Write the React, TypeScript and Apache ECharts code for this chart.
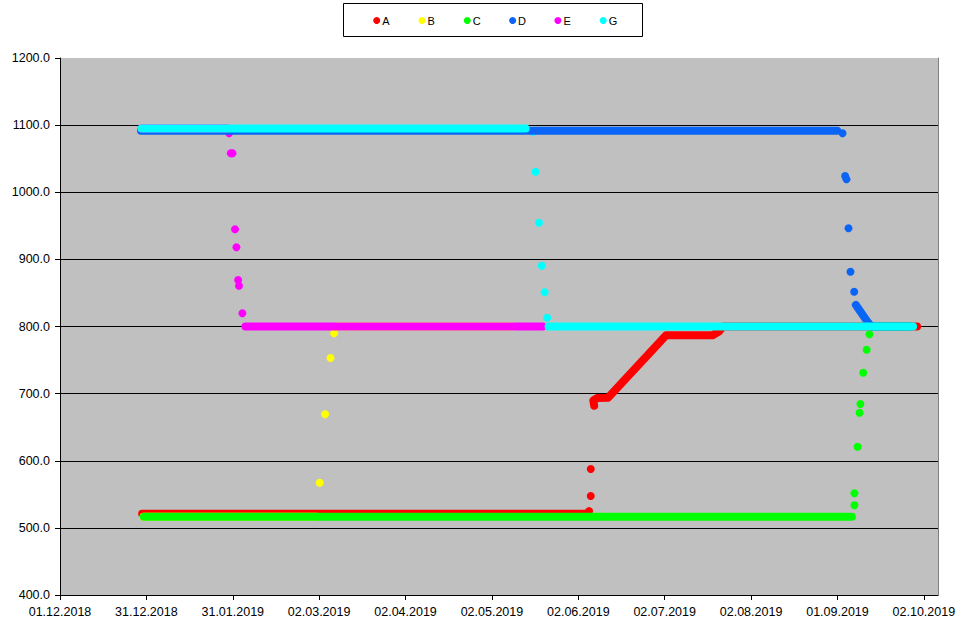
import React, { useEffect, useRef } from "react";
import * as echarts from "echarts";

// x values are days counted from 01.12.2018
const X_TICK_STEP = 30.5;
const X_MIN = 0;
const X_MAX = 310;
const Y_MIN = 400;
const Y_MAX = 1200;
const Y_STEP = 100;

const seriesNames = ["A", "B", "C", "D", "E", "G"];
const seriesColors = ["#ff0000", "#ffff00", "#00ff00", "#0a64f5", "#ff00ff", "#00ffff"];

// A (red)
const A_band1 = [[29, 521], [186, 521]];
const A_dots = [[186.8, 525], [187.4, 547.5], [187.4, 587.7]];
const A_band2 = [[188.6, 682], [188.3, 690], [189.7, 693.5], [193.5, 694], [214, 787], [230.4, 787], [232.8, 793], [234, 800], [302.6, 800]];

// B (yellow)
const B_band1 = [[29.5, 516.5], [90.5, 516.5]];
const B_dots = [[90.9, 521], [91.7, 567.3], [93.6, 669.2], [95.5, 753.1], [96.8, 789.9]];
const B_band2 = [[98, 800], [160, 800]];

// C (green)
const C_band1 = [[29.6, 516.5], [279.6, 516.5]];
const C_dots = [[280.5, 533.6], [280.5, 551.5], [281.6, 620.9], [282.3, 671.6], [282.6, 684.5], [283.6, 731.2], [284.8, 765.4], [285.8, 788.4]];
const C_band2 = [[287, 800], [300, 800]];

// D (blue)
const D_band1 = [[28.6, 1091.5], [274.4, 1091.5]];
const D_dots = [[276.3, 1088], [277.2, 1024.2], [277.7, 1019.3], [278.4, 946.3], [279.1, 881.6], [280.4, 851.8]];
const D_band2 = [[281, 832], [285.1, 807.2], [286.5, 800], [300, 800]];

// E (magenta)
const E_band1 = [[28.8, 1095], [59, 1095]];
const E_dots = [[59.7, 1088], [60.3, 1058], [60.9, 1058], [61.8, 944.8], [62.3, 918], [62.9, 869.3], [63.2, 860.8], [64.4, 819.7]];
const E_band2 = [[65.5, 800], [170.4, 800]];

// G (cyan)
const G_band1 = [[28.8, 1095], [164.4, 1095]];
const G_dots = [[167, 1090], [167.9, 1030.6], [169.1, 954.6], [170.1, 890.6], [171.1, 851], [172, 813.1]];
const G_band2 = [[172.5, 800], [301.2, 800]];

const groups = [
  { bands: [A_band1, A_band2], dots: A_dots },
  { bands: [B_band1, B_band2], dots: B_dots },
  { bands: [C_band1, C_band2], dots: C_dots },
  { bands: [D_band1, D_band2], dots: D_dots },
  { bands: [E_band1, E_band2], dots: E_dots },
  { bands: [G_band1, G_band2], dots: G_dots },
];

const FONT = "'Liberation Sans', Arial, sans-serif";

function dayLabel(v: number): string {
  if (Math.abs(v / X_TICK_STEP - Math.round(v / X_TICK_STEP)) > 1e-6) return "";
  const base = Date.UTC(2018, 11, 1);
  const d = new Date(base + Math.floor(v + 1e-9) * 86400000);
  const dd = String(d.getUTCDate()).padStart(2, "0");
  const mm = String(d.getUTCMonth() + 1).padStart(2, "0");
  return `${dd}.${mm}.${d.getUTCFullYear()}`;
}

export default function App() {
  const ref = useRef<HTMLDivElement>(null);
  useEffect(() => {
    if (!ref.current) return;
    const chart = echarts.init(ref.current, undefined, { renderer: "svg" });
    const series: any[] = [];
    groups.forEach((g, i) => {
      const name = seriesNames[i];
      const color = seriesColors[i];
      g.bands.forEach((b) => {
        series.push({
          name,
          type: "line",
          data: b,
          showSymbol: false,
          symbol: "none",
          silent: true,
          lineStyle: { width: 8, color, cap: "round", join: "round", opacity: 1 },
          itemStyle: { color, opacity: 1 },
        });
      });
      series.push({
        name,
        type: "scatter",
        data: g.dots,
        symbol: "circle",
        symbolSize: 8,
        silent: true,
        itemStyle: { color, opacity: 1 },
      });
    });

    const legendItems: any[] = [
      {
        type: "rect",
        shape: { x: 343.5, y: 3.5, width: 299, height: 33 },
        style: { fill: "#ffffff", stroke: "#000000", lineWidth: 1 },
        silent: true,
      },
    ];
    seriesNames.forEach((n, i) => {
      const cx = 376.7 + 45.3 * i;
      legendItems.push({
        type: "circle",
        shape: { cx, cy: 20.5, r: 3.5 },
        style: { fill: seriesColors[i] },
        silent: true,
      });
      legendItems.push({
        type: "text",
        x: cx + 5.5,
        y: 20.8,
        style: {
          text: n,
          fill: "#000",
          font: `11px ${FONT}`,
          verticalAlign: "middle",
          align: "left",
        },
        silent: true,
      });
    });

    chart.setOption({
      animation: false,
      backgroundColor: "#ffffff",
      graphic: { elements: legendItems },
      grid: {
        left: 60,
        top: 58,
        right: 36,
        bottom: 42,
        show: true,
        backgroundColor: "#c0c0c0",
        borderWidth: 0,
      },
      xAxis: {
        type: "value",
        min: X_MIN,
        max: X_MAX,
        interval: X_TICK_STEP,
        axisLine: { show: true, lineStyle: { color: "#000", width: 1 } },
        axisTick: { show: true, length: 5, lineStyle: { color: "#000" } },
        axisLabel: {
          formatter: (v: number) => dayLabel(v),
          fontFamily: FONT,
          fontSize: 12.5,
          color: "#000",
          margin: 10,
          showMaxLabel: false,
        },
        splitLine: { show: false },
      },
      yAxis: [
        {
          type: "value",
          min: Y_MIN,
          max: Y_MAX,
          interval: Y_STEP,
          axisLine: { show: true, lineStyle: { color: "#000", width: 1 } },
          axisTick: { show: true, length: 5, lineStyle: { color: "#000" } },
          axisLabel: {
            formatter: (v: number) => v.toFixed(1),
            fontFamily: FONT,
            fontSize: 12.5,
            color: "#000",
            margin: 10,
          },
          splitLine: { show: true, showMaxLine: false, showMinLine: false, lineStyle: { color: "#000", width: 1 } },
        },
        {
          type: "value",
          position: "right",
          min: Y_MIN,
          max: Y_MAX,
          interval: Y_STEP,
          axisLine: { show: true, lineStyle: { color: "#808080", width: 1 } },
          axisTick: { show: false },
          axisLabel: { show: false },
          splitLine: { show: false },
        },
      ],
      series,
    });
    return () => chart.dispose();
  }, []);
  return (
    <div
      ref={ref}
      style={{ position: "fixed", left: 0, top: 0, width: 974, height: 637, background: "#fff" }}
    />
  );
}
